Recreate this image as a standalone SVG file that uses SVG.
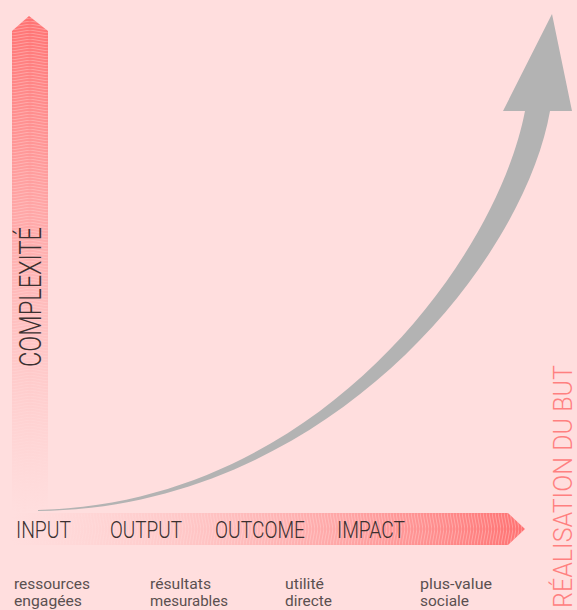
<svg xmlns="http://www.w3.org/2000/svg" width="577" height="610" viewBox="0 0 577 610">
  <defs>
    <linearGradient id="gv" gradientUnits="userSpaceOnUse" x1="0" y1="16" x2="0" y2="512">
      <stop offset="0" stop-color="#ff7272" stop-opacity="1"/>
      <stop offset="0.45" stop-color="#ff9c9c" stop-opacity="0.75"/>
      <stop offset="1" stop-color="#ffb8b8" stop-opacity="0"/>
    </linearGradient>
    <linearGradient id="gh" gradientUnits="userSpaceOnUse" x1="12" y1="0" x2="525" y2="0">
      <stop offset="0" stop-color="#ffb8b8" stop-opacity="0"/>
      <stop offset="0.5" stop-color="#ff9c9c" stop-opacity="0.6"/>
      <stop offset="1" stop-color="#ff7272" stop-opacity="1"/>
    </linearGradient>
    <pattern id="hv" patternUnits="userSpaceOnUse" x="12" y="0" width="36" height="3">
      <path d="M0,3 L18,0 L36,3" fill="none" stroke="#ffdede" stroke-width="0.7" stroke-opacity="0.55"/>
    </pattern>
    <pattern id="hh" patternUnits="userSpaceOnUse" x="0" y="513" width="3" height="32">
      <path d="M0,0 L3,16 L0,32" fill="none" stroke="#ffdede" stroke-width="0.7" stroke-opacity="0.55"/>
    </pattern>
    <style>
      .cap { font-family: Roboto, "Liberation Sans", sans-serif; font-weight: 300; fill: #3a3030; }
      .lbl { font-family: Roboto, "Liberation Sans", sans-serif; font-weight: 400; font-size: 15px; fill: #5a5050; }
      .goal { font-family: Roboto, "Liberation Sans", sans-serif; font-weight: 300; fill: #ff8080; }
    </style>
  </defs>
  <rect width="577" height="610" fill="#ffdede"/>

  <g id="axis-complexite">
    <path d="M12,512 L12,31 L29,16 L48,31 L48,512 Z" fill="url(#gv)"/>
    <path d="M12,512 L12,31 L29,16 L48,31 L48,512 Z" fill="url(#hv)"/>
    <text class="cap" font-size="31" transform="translate(41,367) rotate(-90)" textLength="140" lengthAdjust="spacingAndGlyphs">COMPLEXITÉ</text>
  </g>

  <g id="axis-etapes">
    <path d="M12,513 L508,513 L525,529 L508,545 L12,545 Z" fill="url(#gh)"/>
    <path d="M12,513 L508,513 L525,529 L508,545 L12,545 Z" fill="url(#hh)"/>
  </g>

  <g id="connectors">
    <path d="M38,511 C325,508 523,265 550,111 L572,111 L552,14 L503,111 L525,111 C497,257 320,503 38,510 Z" fill="#b3b3b3"/>
  </g>

  <g id="input">
    <text class="cap" font-size="23" x="16" y="538" textLength="55" lengthAdjust="spacingAndGlyphs">INPUT</text>
    <text class="lbl" x="14" y="589" textLength="76" lengthAdjust="spacingAndGlyphs">ressources</text>
    <text class="lbl" x="14" y="606" textLength="68" lengthAdjust="spacingAndGlyphs">engagées</text>
  </g>
  <g id="output">
    <text class="cap" font-size="23" x="110" y="538" textLength="72" lengthAdjust="spacingAndGlyphs">OUTPUT</text>
    <text class="lbl" x="150" y="589" textLength="61" lengthAdjust="spacingAndGlyphs">résultats</text>
    <text class="lbl" x="150" y="606" textLength="78" lengthAdjust="spacingAndGlyphs">mesurables</text>
  </g>
  <g id="outcome">
    <text class="cap" font-size="23" x="215" y="538" textLength="90" lengthAdjust="spacingAndGlyphs">OUTCOME</text>
    <text class="lbl" x="285" y="589" textLength="39" lengthAdjust="spacingAndGlyphs">utilité</text>
    <text class="lbl" x="285" y="606" textLength="47" lengthAdjust="spacingAndGlyphs">directe</text>
  </g>
  <g id="impact">
    <text class="cap" font-size="23" x="337" y="538" textLength="68" lengthAdjust="spacingAndGlyphs">IMPACT</text>
    <text class="lbl" x="420" y="589" textLength="72" lengthAdjust="spacingAndGlyphs">plus-value</text>
    <text class="lbl" x="420" y="606" textLength="49" lengthAdjust="spacingAndGlyphs">sociale</text>
  </g>

  <g id="axis-realisation">
    <text class="goal" font-size="25" transform="translate(572,608) rotate(-90)" textLength="243" lengthAdjust="spacingAndGlyphs">RÉALISATION DU BUT</text>
  </g>
</svg>
